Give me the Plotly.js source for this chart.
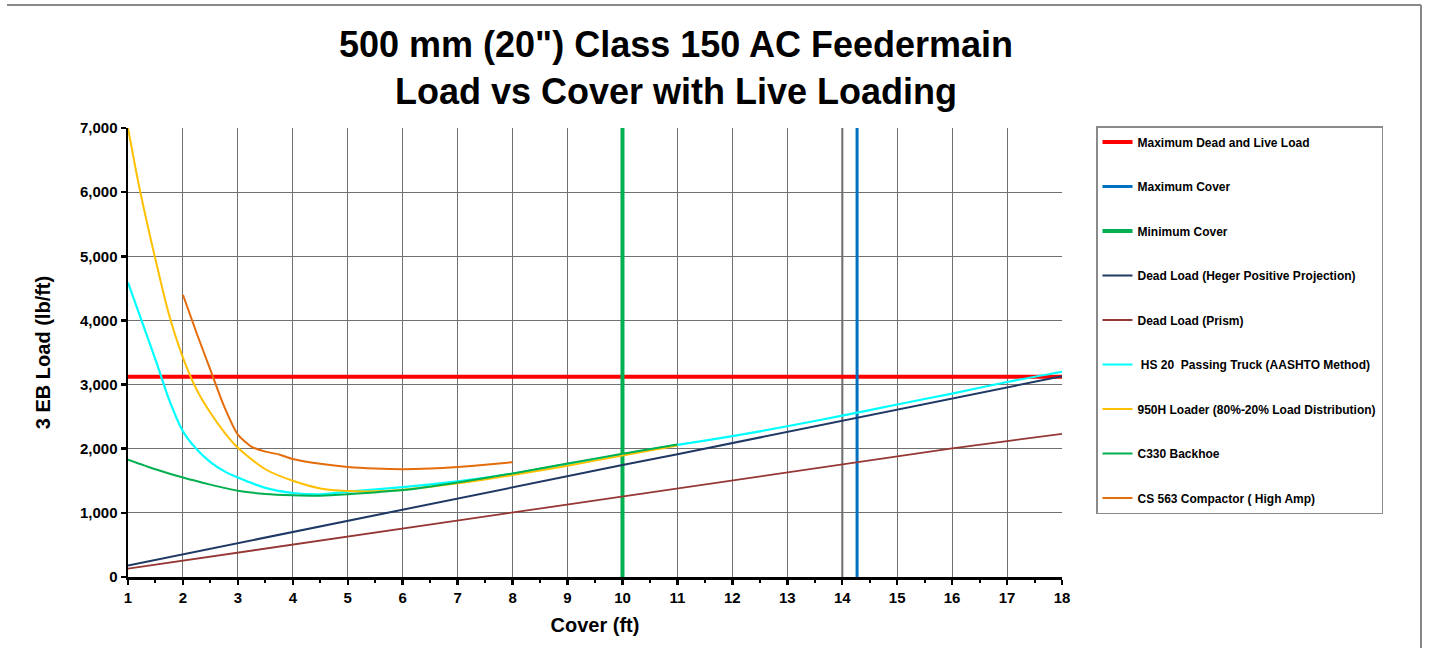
<!DOCTYPE html>
<html>
<head>
<meta charset="utf-8">
<script src="https://cdn.plot.ly/plotly-3.0.1.min.js"></script>
<style>html,body{margin:0;padding:0;background:#fff;}#chart{width:1431px;height:648px;}</style>
</head>
<body>
<div id="chart"></div>
<script>
// ---- Data ----
const titleText = '500 mm (20") Class 150 AC Feedermain<br>Load vs Cover with Live Loading';
const xTitle = 'Cover (ft)';
const yTitle = '3 EB Load (lb/ft)';

const seriesNames = [
  'Maximum Dead and Live Load',
  'Maximum Cover',
  'Minimum Cover',
  'Dead Load (Heger Positive Projection)',
  'Dead Load (Prism)',
  ' HS 20  Passing Truck (AASHTO Method)',
  '950H Loader (80%-20% Load Distribution)',
  'C330 Backhoe',
  'CS 563 Compactor ( High Amp)'
];

// Maximum Dead and Live Load (horizontal limit)
const maxLoadX = [1, 18];
const maxLoadY = [3120, 3120];
// Maximum Cover (vertical limit)
const maxCoverX = [14.27, 14.27];
const maxCoverY = [0, 7000];
// Minimum Cover (vertical limit)
const minCoverX = [10, 10];
const minCoverY = [0, 7000];

// Dead loads
const deadCover = [1, 2, 3, 4, 5, 6, 7, 8, 9, 10, 11, 12, 13, 14, 15, 16, 17, 18];
const hegerLoad = [180, 355, 530, 705, 875, 1050, 1225, 1395, 1570, 1745, 1915, 2090, 2265, 2435, 2610, 2785, 2955, 3130];
const prismLoad = [130, 255, 385, 510, 635, 755, 875, 1000, 1125, 1250, 1375, 1500, 1625, 1755, 1880, 2005, 2120, 2230];

// HS 20 Passing Truck
const hs20Cover = [1, 1.25, 1.5, 1.75, 2, 2.25, 2.5, 2.75, 3, 3.5, 4, 4.5, 5, 6, 7, 8, 9, 10, 11, 12, 13, 14, 15, 16, 17, 18];
const hs20Load  = [4590, 3990, 3390, 2760, 2270, 1990, 1790, 1650, 1550, 1390, 1310, 1290, 1330, 1400, 1490, 1610, 1760, 1910, 2060, 2195, 2350, 2515, 2690, 2860, 3040, 3200];

// 950H Loader
const loaderCover = [1, 1.2, 1.5, 1.75, 2, 2.25, 2.5, 2.75, 3, 3.5, 4, 4.5, 5, 5.5, 6, 7, 8, 9, 10, 11];
const loaderLoad  = [7000, 6100, 4950, 4080, 3420, 2920, 2560, 2260, 2015, 1680, 1500, 1380, 1340, 1335, 1360, 1460, 1590, 1735, 1895, 2050];

// C330 Backhoe
const backhoeCover = [1, 1.5, 2, 2.5, 3, 3.5, 4, 4.5, 5, 6, 7, 8, 9, 10, 11];
const backhoeLoad  = [1830, 1680, 1550, 1440, 1345, 1295, 1275, 1268, 1290, 1355, 1475, 1615, 1770, 1920, 2065];

// CS 563 Compactor
const compCover = [2, 2.25, 2.5, 2.75, 3, 3.25, 3.5, 3.75, 4, 4.5, 5, 5.5, 6, 6.5, 7, 7.5, 8];
const compLoad  = [4400, 3800, 3230, 2660, 2220, 2030, 1955, 1910, 1840, 1765, 1715, 1690, 1680, 1690, 1715, 1750, 1790];

const xTicks = [1, 2, 3, 4, 5, 6, 7, 8, 9, 10, 11, 12, 13, 14, 15, 16, 17, 18];

// ---- Traces ----
const FONT = 'Liberation Sans, Arial, sans-serif';
function tr(x, y, name, color, width, shape) {
  return {
    x: x, y: y, name: name, type: 'scatter', mode: 'lines',
    line: {color: color, width: width, shape: shape || 'linear', smoothing: 0.7},
    legendgroup: name, hoverinfo: 'x+y+name'
  };
}
const traces = [
  tr(maxLoadX, maxLoadY, seriesNames[0], '#ff0000', 4),
  tr(maxCoverX, maxCoverY, seriesNames[1], '#0070c0', 3),
  tr(minCoverX, minCoverY, seriesNames[2], '#00b050', 4),
  tr(deadCover, hegerLoad, seriesNames[3], '#1f3864', 2),
  tr(deadCover, prismLoad, seriesNames[4], '#953735', 1.8),
  tr(hs20Cover, hs20Load, seriesNames[5], '#00ffff', 2.2, 'spline'),
  tr(loaderCover, loaderLoad, seriesNames[6], '#ffc000', 2, 'spline'),
  tr(backhoeCover, backhoeLoad, seriesNames[7], '#00b050', 2, 'spline'),
  tr(compCover, compLoad, seriesNames[8], '#e46c0a', 2, 'spline')
];

// paper-coordinate helpers for frame lines
const L = 128, R = 1062, T = 128, B = 577;
const px2x = p => (p - L) / (R - L);
const px2y = p => (B - p) / (B - T);

const shapes = [
  {type: 'line', xref: 'x', yref: 'paper', x0: 14, x1: 14, y0: 0, y1: 1, line: {color: '#9a9a9a', width: 2.5}, layer: 'below'},
  // outer frame (top and right edges)
  {type: 'line', xref: 'paper', yref: 'paper', x0: px2x(7), x1: px2x(1421), y0: px2y(5), y1: px2y(5), line: {color: '#888888', width: 2}},
  {type: 'line', xref: 'paper', yref: 'paper', x0: px2x(1421), x1: px2x(1421), y0: px2y(5), y1: px2y(648), line: {color: '#888888', width: 2}}
];

const layout = {
  width: 1431, height: 648,
  paper_bgcolor: '#ffffff', plot_bgcolor: '#ffffff',
  margin: {l: L, r: 1431 - R, t: T, b: 648 - B, pad: 0},
  font: {family: FONT, color: '#000', size: 14},
  title: {
    text: titleText,
    font: {family: FONT, size: 36, color: '#000', weight: 'bold'},
    xref: 'container', x: 676 / 1431, xanchor: 'center',
    yref: 'container', y: 1 - 57 / 648, yanchor: 'top'
  },
  xaxis: {
    range: [1, 18], tickvals: xTicks, ticktext: xTicks.map(String),
    showgrid: true, gridcolor: '#707070', gridwidth: 1,
    zeroline: false, showline: true, linecolor: '#000', linewidth: 2.5,
    ticks: 'outside', ticklen: 5, tickwidth: 2.5, tickcolor: '#000',
    minor: {dtick: 0.5, tick0: 1, ticks: 'outside', ticklen: 3, tickwidth: 2, tickcolor: '#000', showgrid: false},
    tickfont: {family: FONT, size: 15, color: '#000', weight: 'bold'},
    title: {text: xTitle, font: {family: FONT, size: 20, color: '#000', weight: 'bold'}, standoff: 14},
    fixedrange: true
  },
  yaxis: {
    range: [0, 7000], dtick: 1000, tick0: 0, tickformat: ',d',
    showgrid: true, gridcolor: '#707070', gridwidth: 1,
    zeroline: false, showline: true, linecolor: '#000', linewidth: 2.5,
    ticks: 'outside', ticklen: 5, tickwidth: 2.5, tickcolor: '#000',
    tickfont: {family: FONT, size: 15, color: '#000', weight: 'bold'},
    title: {text: yTitle, font: {family: FONT, size: 20, color: '#000', weight: 'bold'}, standoff: 24},
    fixedrange: true
  },
  showlegend: true,
  legend: {
    x: px2x(1096), xanchor: 'left', y: px2y(126), yanchor: 'top',
    bgcolor: '#ffffff', bordercolor: '#8a8a8a', borderwidth: 1.5,
    font: {family: FONT, size: 12, color: '#000', weight: 'bold'},
    tracegroupgap: 25.5, traceorder: 'grouped',
    itemwidth: 30, maxheight: 600
  },
  shapes: shapes
};

Plotly.newPlot('chart', traces, layout, {displayModeBar: false, staticPlot: true});
</script>
</body>
</html>
